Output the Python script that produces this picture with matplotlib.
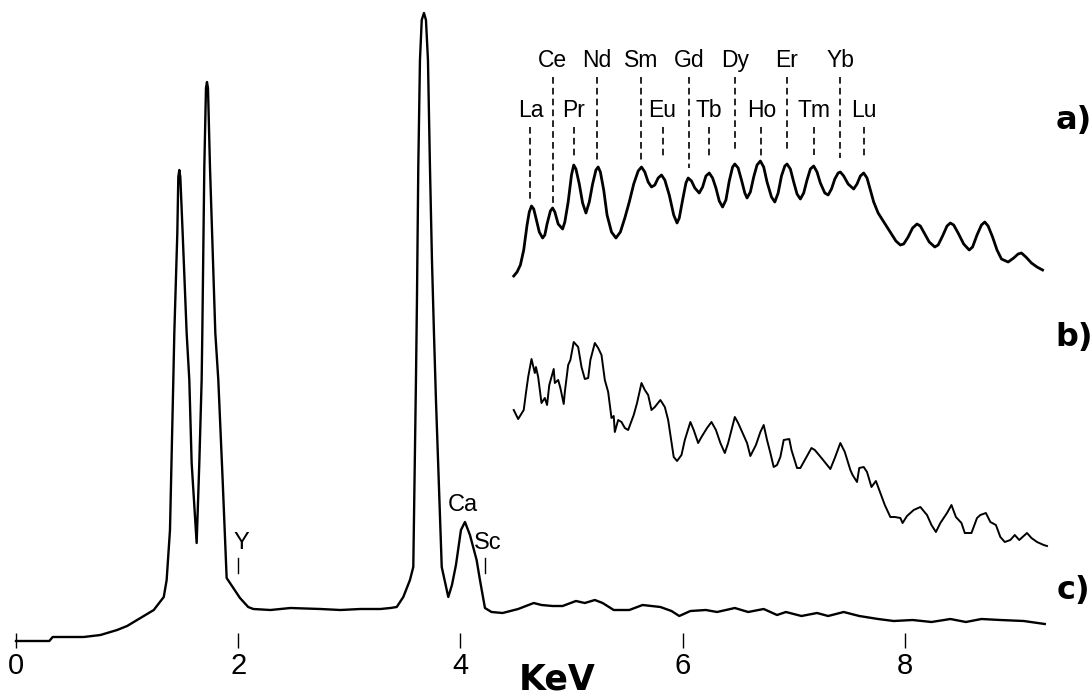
"""EDS spectra of a rare-earth sample: a) reference, b) raw, c) full range."""
import matplotlib

matplotlib.use("Agg")
import matplotlib.pyplot as plt

# ── spectrum c): full range (keV, counts in arbitrary units) ───────────────
c_kev = [0.000, 0.300, 0.330, 0.610, 0.760, 0.910, 1.000, 1.120, 1.240,
         1.330, 1.356, 1.386, 1.416, 1.425, 1.452, 1.461, 1.470, 1.479,
         1.500, 1.536, 1.560, 1.581, 1.626, 1.650, 1.671, 1.677, 1.695,
         1.710, 1.719, 1.728, 1.746, 1.794, 1.821, 1.860, 1.896, 1.956,
         2.016, 2.090, 2.136, 2.290, 2.470, 2.740, 2.920, 3.100, 3.280,
         3.370, 3.427, 3.486, 3.546, 3.576, 3.600, 3.609, 3.621, 3.636,
         3.652, 3.672, 3.690, 3.708, 3.726, 3.744, 3.762, 3.780, 3.832,
         3.891, 3.924, 3.960, 4.005, 4.041, 4.086, 4.146, 4.176, 4.221,
         4.280, 4.380, 4.520, 4.660, 4.730, 4.830, 4.920, 5.040, 5.120,
         5.210, 5.280, 5.380, 5.520, 5.640, 5.800, 5.900, 5.970, 6.070,
         6.210, 6.310, 6.470, 6.590, 6.730, 6.850, 6.930, 7.070, 7.210,
         7.310, 7.450, 7.590, 7.760, 7.900, 8.070, 8.240, 8.410, 8.550,
         8.690, 8.860, 9.070, 9.260]
c_cts = [9, 9, 13, 13, 15, 20, 24, 32, 40,
         53, 70, 120, 270, 317, 417, 473, 480, 473,
         417, 317, 270, 187, 107, 187, 270, 317, 483,
         562, 568, 562, 483, 317, 270, 170, 72, 62,
         52, 43, 41, 40, 42, 41, 40, 41, 41,
         42, 43, 53, 70, 83, 270, 350, 483, 590,
         630, 637, 630, 590, 483, 390, 317, 250, 83,
         53, 65, 85, 120, 128, 115, 90, 70, 42,
         38, 37, 41, 47, 45, 44, 44, 49, 47,
         50, 47, 40, 40, 45, 43, 39, 34, 39,
         40, 38, 42, 38, 41, 35, 38, 34, 37,
         34, 38, 34, 31, 29, 30, 28, 31, 28,
         31, 30, 29, 26]

# ── spectrum a): rare-earth L lines, offset upward ─────────────────────────
a_kev = [4.48, 4.51, 4.54, 4.57, 4.60, 4.62, 4.64, 4.66, 4.68, 4.71, 4.74,
         4.76, 4.78, 4.81, 4.83, 4.85, 4.88, 4.92, 4.94, 4.97, 5.00, 5.02,
         5.04, 5.07, 5.10, 5.13, 5.16, 5.19, 5.22, 5.24, 5.26, 5.29, 5.32,
         5.36, 5.40, 5.44, 5.48, 5.52, 5.56, 5.60, 5.63, 5.66, 5.69, 5.72,
         5.75, 5.78, 5.81, 5.84, 5.88, 5.92, 5.95, 5.97, 6.00, 6.03, 6.05,
         6.08, 6.11, 6.15, 6.18, 6.21, 6.24, 6.27, 6.30, 6.33, 6.36, 6.39,
         6.42, 6.45, 6.47, 6.50, 6.53, 6.56, 6.58, 6.61, 6.64, 6.67, 6.70,
         6.73, 6.76, 6.80, 6.83, 6.86, 6.89, 6.92, 6.94, 6.97, 7.00, 7.03,
         7.06, 7.09, 7.12, 7.15, 7.18, 7.21, 7.24, 7.28, 7.31, 7.34, 7.37,
         7.40, 7.42, 7.45, 7.49, 7.54, 7.57, 7.60, 7.63, 7.66, 7.69, 7.72,
         7.76, 7.80, 7.84, 7.88, 7.92, 7.96, 7.99, 8.03, 8.07, 8.11, 8.14,
         8.18, 8.22, 8.27, 8.30, 8.34, 8.38, 8.41, 8.44, 8.48, 8.53, 8.58,
         8.61, 8.65, 8.69, 8.72, 8.75, 8.79, 8.83, 8.87, 8.93, 8.98, 9.02,
         9.05, 9.09, 9.14, 9.19, 9.24]
a_cts = [374, 378, 385, 400, 425, 438, 444, 441, 432, 418, 412,
         415, 426, 439, 442, 438, 426, 421, 428, 448, 475, 485,
         481, 466, 447, 437, 448, 466, 480, 483, 478, 460, 435,
         418, 412, 418, 432, 448, 466, 479, 483, 478, 468, 463,
         465, 472, 475, 470, 455, 435, 427, 432, 450, 467, 472,
         469, 462, 457, 463, 474, 477, 472, 462, 449, 443, 450,
         469, 483, 486, 482, 470, 457, 452, 458, 473, 485, 489,
         483, 468, 453, 448, 457, 474, 484, 486, 481, 468, 456,
         451, 457, 470, 481, 484, 478, 467, 457, 455, 461, 471,
         477, 478, 474, 466, 461, 466, 474, 477, 472, 460, 448,
         437, 430, 423, 416, 409, 405, 406, 413, 422, 426, 424,
         416, 408, 403, 405, 414, 424, 427, 425, 417, 406, 400,
         403, 415, 425, 428, 424, 413, 400, 391, 388, 392, 396,
         397, 393, 387, 383, 380]

# ── spectrum b): noisy measurement, offset upward ──────────────────────────
b_kev = [4.48, 4.52, 4.57, 4.59, 4.61, 4.64, 4.67, 4.68, 4.70, 4.73, 4.76,
         4.78, 4.80, 4.84, 4.85, 4.88, 4.90, 4.93, 4.94, 4.97, 4.99, 5.02,
         5.06, 5.09, 5.12, 5.15, 5.17, 5.21, 5.24, 5.27, 5.30, 5.33, 5.36,
         5.38, 5.39, 5.42, 5.45, 5.48, 5.51, 5.56, 5.59, 5.63, 5.66, 5.69,
         5.72, 5.75, 5.80, 5.84, 5.87, 5.92, 5.95, 5.99, 6.02, 6.07, 6.10,
         6.14, 6.17, 6.22, 6.26, 6.30, 6.34, 6.38, 6.41, 6.47, 6.50, 6.54,
         6.58, 6.61, 6.66, 6.70, 6.73, 6.76, 6.79, 6.82, 6.85, 6.88, 6.91,
         6.96, 6.98, 7.03, 7.06, 7.10, 7.16, 7.19, 7.25, 7.33, 7.37, 7.42,
         7.46, 7.51, 7.53, 7.57, 7.59, 7.63, 7.66, 7.70, 7.74, 7.78, 7.82,
         7.87, 7.91, 7.96, 7.98, 8.02, 8.08, 8.14, 8.20, 8.24, 8.28, 8.32,
         8.38, 8.42, 8.46, 8.51, 8.54, 8.60, 8.65, 8.68, 8.73, 8.77, 8.82,
         8.86, 8.90, 8.95, 8.99, 9.03, 9.10, 9.14, 9.19, 9.25, 9.28]
b_cts = [240, 231, 240, 257, 273, 291, 277, 283, 273, 247, 252,
         245, 265, 281, 267, 270, 262, 246, 258, 285, 290, 308,
         303, 283, 271, 272, 290, 307, 302, 295, 270, 258, 232,
         234, 218, 230, 228, 222, 220, 235, 247, 267, 260, 255,
         240, 243, 250, 243, 230, 193, 189, 195, 210, 228, 220,
         207, 213, 222, 228, 220, 207, 197, 207, 233, 227, 217,
         207, 194, 205, 218, 225, 210, 197, 183, 185, 193, 210,
         211, 200, 182, 182, 190, 202, 200, 192, 181, 192, 207,
         198, 180, 175, 168, 182, 183, 178, 163, 169, 157, 145,
         133, 133, 132, 127, 134, 140, 143, 135, 125, 118, 127,
         137, 145, 133, 127, 117, 117, 132, 135, 137, 128, 125,
         113, 108, 110, 115, 110, 117, 112, 108, 105, 104]

# ── line markers for spectrum a) ───────────────────────────────────────────
ree_names = ["La", "Ce", "Pr", "Nd", "Sm", "Eu", "Gd",
             "Tb", "Dy", "Ho", "Er", "Tm", "Yb", "Lu"]
ree_kev = [4.63, 4.83, 5.02, 5.23, 5.63, 5.82, 6.06,
           6.24, 6.47, 6.71, 6.94, 7.18, 7.42, 7.63]
ree_row = [0, 1, 0, 1, 1, 0, 1, 0, 1, 0, 1, 0, 1, 0]   # 1 = upper label row
ree_line_end = [448, 447, 492, 488, 487, 492, 482,
                492, 500, 494, 498, 495, 492, 493]

# ── line markers for spectrum c) ───────────────────────────────────────────
c_marks = ["Y", "Sc"]
c_mark_kev = [2.00, 4.22]
ticks_kev = [0, 2, 4, 6, 8]

LABEL_FONT = ["Liberation Sans", "DejaVu Sans"]

fig = plt.figure(figsize=(10.92, 6.94), dpi=100)
ax = fig.add_axes([0, 0, 1, 1])
ax.set_xlim(-0.144, 9.685)
ax.set_ylim(-44, 650)

ax.plot(c_kev, c_cts, color="black", linewidth=1.7, solid_joinstyle="round")
ax.plot(a_kev, a_cts, color="black", linewidth=2.0, solid_joinstyle="round")
ax.plot(b_kev, b_cts, color="black", linewidth=1.4, solid_joinstyle="round")

# element labels above a)
for name, kev, row, end in zip(ree_names, ree_kev, ree_row, ree_line_end):
    top = 573 if row else 523
    ax.plot([kev, kev], [top, end], color="black", linewidth=1.2,
            linestyle=(0, (4, 2.5)))
    ax.text(kev, top + 17, name, ha="center", va="center", fontsize=16.5,
            family=LABEL_FONT)

# small markers in c)
for name, kev in zip(c_marks, c_mark_kev):
    ax.plot([kev, kev], [77, 92], color="black", linewidth=1.0)
    ax.text(kev + 0.03, 107, name, ha="center", va="center", fontsize=17,
            family=LABEL_FONT)
ax.text(4.02, 145, "Ca", ha="center", va="center", fontsize=17,
        family=LABEL_FONT)

# panel letters
for letter, y in zip(["a)", "b)", "c)"], [530, 313, 60]):
    ax.text(9.52, y, letter, ha="center", va="center", fontsize=23,
            fontweight="bold", family="DejaVu Sans")

# bottom axis: ticks only, no spine
for side in ["top", "right", "left"]:
    ax.spines[side].set_visible(False)
ax.spines["bottom"].set_position(("data", 2))
ax.spines["bottom"].set_visible(False)
ax.set_yticks([])
ax.set_xticks(ticks_kev)
ax.set_xticklabels([str(t) for t in ticks_kev],
                   family=["Liberation Sans Narrow", "Liberation Sans"],
                   fontsize=21)
ax.tick_params(axis="x", direction="in", length=11, width=1.0, pad=3)

ax.text(4.87, -29, "KeV", ha="center", va="center", fontsize=25,
        fontweight="bold", family="DejaVu Sans")

fig.savefig("out.png", dpi=100)
